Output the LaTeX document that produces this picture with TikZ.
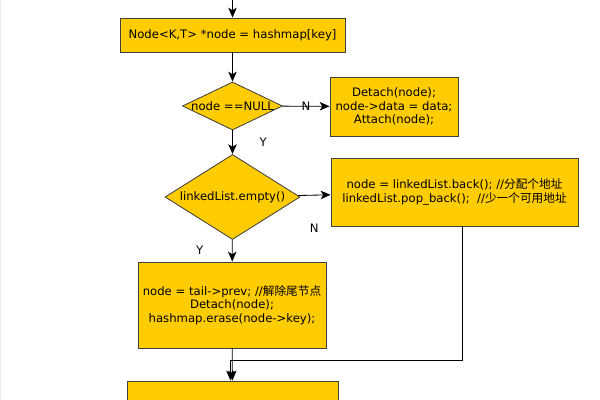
\documentclass[tikz,border=0pt]{standalone}
\usepackage{fontspec}
\setmainfont{DejaVu Sans}
\newfontfamily\cjk{Noto Sans CJK SC}
\usepackage{tikz}
\usetikzlibrary{arrows.meta,
                shapes.geometric}
\definecolor{boxfill}{HTML}{FFCC00}

\begin{document}
\begin{tikzpicture}[x=0.025cm, y=-0.025cm, font=\fontsize{8.3}{9.7}\selectfont]

\tikzstyle{box1}=[rectangle, draw=black!75, line width=0.6pt, fill=boxfill, align=center, inner sep=0pt]
\tikzstyle{choice}=[diamond, draw=black!75, line width=0.6pt, fill=boxfill, inner sep=0pt]
\tikzstyle{arrow}=[-{Stealth[length=7pt, width=6pt, inset=1.8pt]}, line width=0.6pt]

\useasboundingbox (0,0) rectangle (600,400);
\clip (0,0) rectangle (600,400);
\draw [color=black!8!white] (0.5,0) -- (0.5,400);

\coordinate (top) at (232.5,-5);

\node (A) [box1, minimum width=5.625cm, minimum height=0.85cm] at (232.5,35) {Node<K,T> *node = hashmap[key]};

\node (B) [choice, minimum width=2.5cm, minimum height=1.2cm] at (232.5,106) {\makebox[0pt]{node ==NULL}};

\node (C) [box1, minimum width=3.2cm, minimum height=1.475cm] at (394,106.5) {Detach(node);\\
                                                                              node->data = data;\\
                                                                              Attach(node);};

\node (D) [choice, minimum width=3.375cm, minimum height=2.125cm] at (232.5,197) {\makebox[0pt]{linkedList.empty()}};

\node (E) [box1, minimum width=6.175cm, minimum height=1.7cm] at (454.5,192) {node = linkedList.back(); //{\cjk 分配个地址}\\
       linkedList.pop\_back();~~//{\cjk 少一个可用地址}};

\node (F) [box1, minimum width=4.7cm, minimum height=2.15cm] at (232,305) {node = tail->prev; //{\cjk 解除尾节点}\\
       Detach(node);\\
       hashmap.erase(node->key);};

\node (G) [box1, minimum width=5.275cm, minimum height=1.2cm] at (232.5,405) {};


\draw [arrow] (top) -- (A);
\draw [arrow] (A) -- (B);
\draw [arrow] (B) -- node {N} (C);
\draw [arrow] (B) -- node [right = 0.55cm] {Y} (D);
\draw [arrow] (D) -- node [below = 0.6cm] {N} (E);
\draw [arrow] (D) -- node [left = 0.6cm] {Y} (F);
\draw [arrow] (F) -- (G);
\draw [arrow] ([xshift=0.21cm]E.south) |- ([xshift=-0.05cm, yshift=0.5cm]G.north) -- ([xshift=-0.05cm]G.north);

\end{tikzpicture}
\end{document}
